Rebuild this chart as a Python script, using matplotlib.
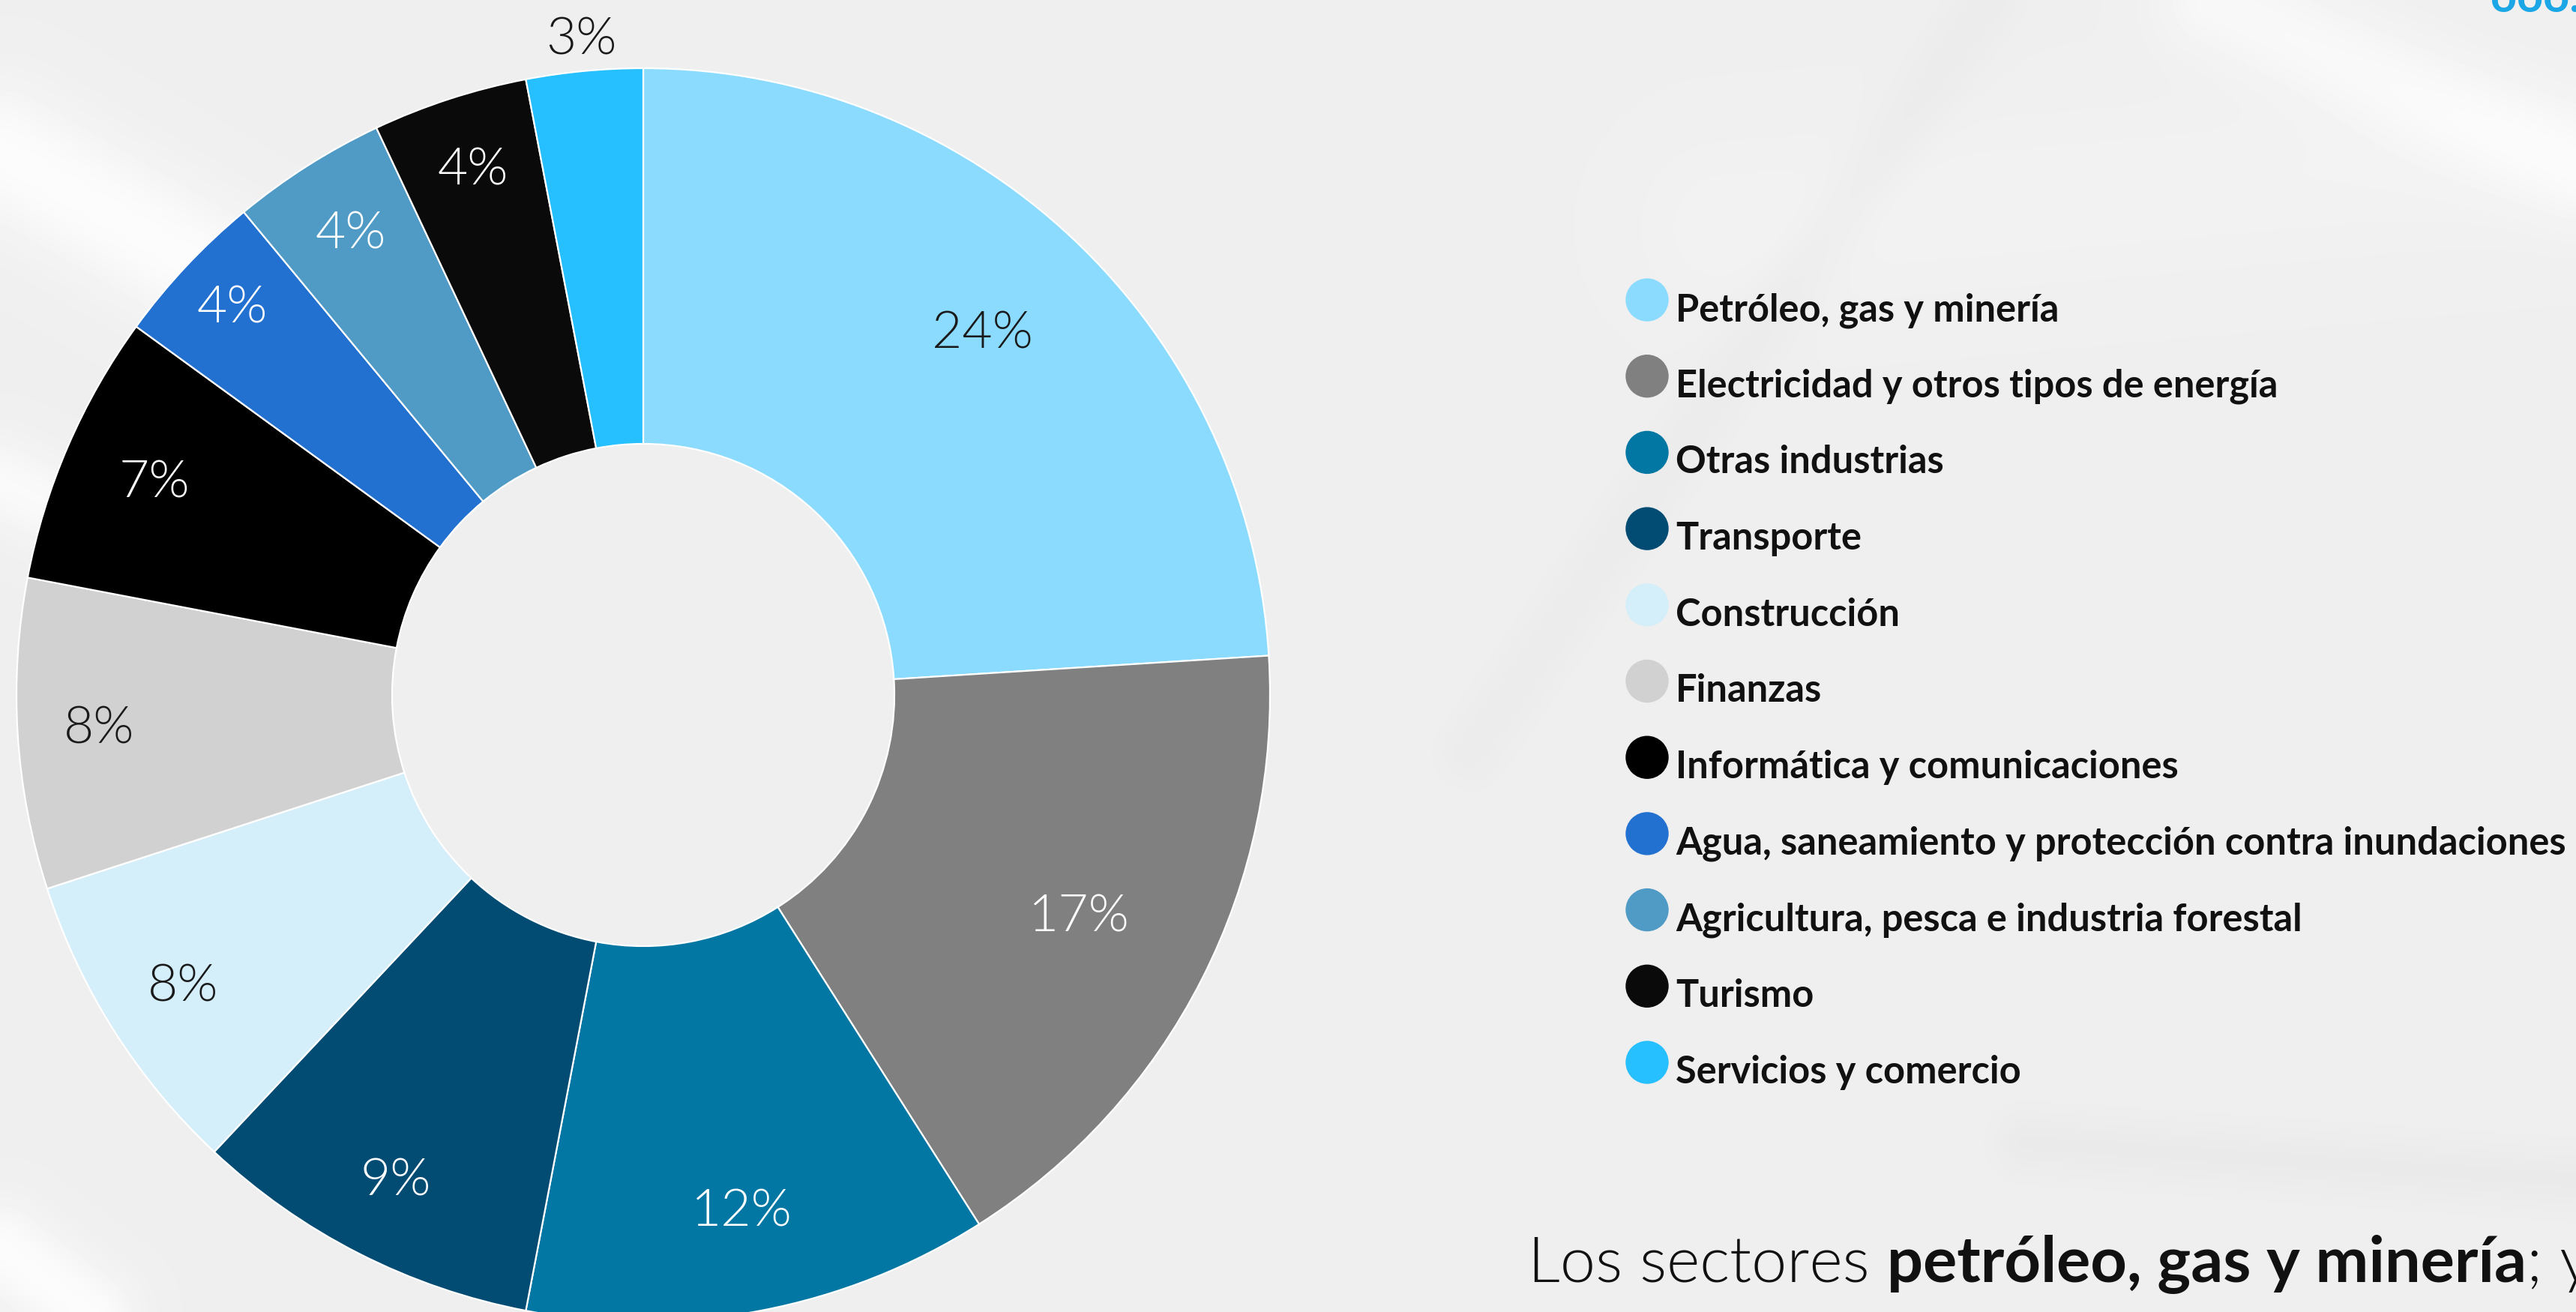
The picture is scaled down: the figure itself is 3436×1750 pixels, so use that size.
import numpy as np
import matplotlib
matplotlib.use("Agg")
import matplotlib.pyplot as plt

# ---------------- data ----------------
sectors = [
    "Petróleo, gas y minería",
    "Electricidad y otros tipos de energía",
    "Otras industrias",
    "Transporte",
    "Construcción",
    "Finanzas",
    "Informática y comunicaciones",
    "Agua, saneamiento y protección contra inundaciones",
    "Agricultura, pesca e industria forestal",
    "Turismo",
    "Servicios y comercio",
]
shares = [24, 17, 12, 9, 8, 8, 7, 4, 4, 4, 3]
colors = ["#8BDBFF", "#808080", "#0377A3", "#024B73", "#D4EEFA", "#D1D1D1",
          "#000000", "#2271D1", "#4F9BC6", "#0A0A0A", "#26BFFF"]
label_colors = ["#1a1a1a", "white", "white", "white", "#1a1a1a", "#1a1a1a",
                "white", "white", "white", "white", "#1a1a1a"]
label_radius = [0.79, 0.78, 0.84, 0.87, 0.87, 0.87, 0.85, 0.90, 0.87, 0.88, 1.05]

W, H = 3436, 1750
LIGHT = 300
fig = plt.figure(figsize=(W / 100, H / 100), dpi=100)
fig.patch.set_facecolor("#EFEFEF")

# ---------------- background with soft streaks ----------------
bg_ax = fig.add_axes([0, 0, 1, 1])
bg_ax.set_axis_off()
s = 4
yy, xx = np.mgrid[0:H // s, 0:W // s] * s
img = np.full(xx.shape, 0.937)

def streak(x0, y0, x1, y1, sigma, amp):
    global img
    dx, dy = x1 - x0, y1 - y0
    t = ((xx - x0) * dx + (yy - y0) * dy) / (dx * dx + dy * dy)
    t = np.clip(t, 0, 1)
    d2 = (xx - (x0 + t * dx)) ** 2 + (yy - (y0 + t * dy)) ** 2
    img = img + amp * np.exp(-d2 / (2 * sigma ** 2))

streak(0, 200, 520, 500, 60, 0.05)
streak(0, 640, 260, 760, 40, 0.04)
streak(2950, 0, 3436, 220, 50, 0.035)
streak(2650, 0, 1960, 1000, 30, -0.015)
streak(2700, 1520, 3436, 1570, 30, -0.02)
streak(0, 1660, 120, 1750, 40, 0.05)
streak(2300, 300, 3436, 200, 80, 0.012)
img = np.clip(img, 0, 1)
bg_ax.imshow(img, cmap="gray", vmin=0, vmax=1, extent=[0, W, H, 0],
             interpolation="bilinear", aspect="auto")
bg_ax.set_xlim(0, W)
bg_ax.set_ylim(H, 0)

# ---------------- donut ----------------
ax = fig.add_axes([0, 0, 1, 1])
ax.set_facecolor("none")
cx, cy = 858, H - 927
R, r_in = 836, 335
wedges, _ = ax.pie(shares, colors=colors, startangle=90, counterclock=False,
                   radius=R, center=(cx, cy),
                   wedgeprops=dict(width=R - r_in, edgecolor="white", linewidth=1.6))
ax.set_xlim(0, W)
ax.set_ylim(0, H)
ax.set_aspect("equal")
ax.set_axis_off()

for w, v, lc, lr in zip(wedges, shares, label_colors, label_radius):
    ang = np.deg2rad((w.theta1 + w.theta2) / 2)
    x = cx + R * lr * np.cos(ang)
    y = cy + R * lr * np.sin(ang)
    ax.text(x, y, f"{v}%", ha="center", va="center", color=lc,
            fontsize=50, family="Lato", fontweight=LIGHT)

# ---------------- legend ----------------
fig.canvas.draw()
renderer = fig.canvas.get_renderer()
longest = max(sectors, key=len)
t = ax.text(0, 0, longest, fontsize=32, family="Lato", fontweight="bold")
bw = t.get_window_extent(renderer).width
t.remove()
leg_fs = 32 * 1188 / bw

row0_c, row0_b, step = 400, 428, 101.7
for i, (name, col) in enumerate(zip(sectors, colors)):
    yc = H - (row0_c + i * step)
    yb = H - (row0_b + i * step)
    ax.add_patch(plt.Circle((2197, yc), 28, color=col, zorder=3))
    ax.text(2235, yb, name, fontsize=leg_fs, family="Lato", fontweight="bold",
            color="#111111", va="baseline", ha="left", zorder=4)

# ---------------- bottom text ----------------
parts = [("Los sectores ", LIGHT), ("petróleo, gas y minería", "bold"), ("; y", LIGHT)]
tmp = [ax.text(0, 0, p, fontsize=80, family="Lato", fontweight=wgt) for p, wgt in parts[:2]]
tw = sum(tt.get_window_extent(renderer).width for tt in tmp)
for tt in tmp:
    tt.remove()
bfs = 80 * 1332 / tw
xpos = 2038
for p, wgt in parts:
    tt = ax.text(xpos, H - 1709, p, fontsize=bfs, family="Lato", fontweight=wgt,
                 color="#111111", va="baseline", ha="left", clip_on=False)
    xpos += tt.get_window_extent(renderer).width

# partial blue text at the top-right edge
ax.text(3322, H - 16, "ooo.", fontsize=44, family="Lato", fontweight="bold",
        color="#1BA6E6", va="baseline", ha="left", clip_on=False)

fig.savefig("out.png", dpi=100, facecolor=fig.get_facecolor())
